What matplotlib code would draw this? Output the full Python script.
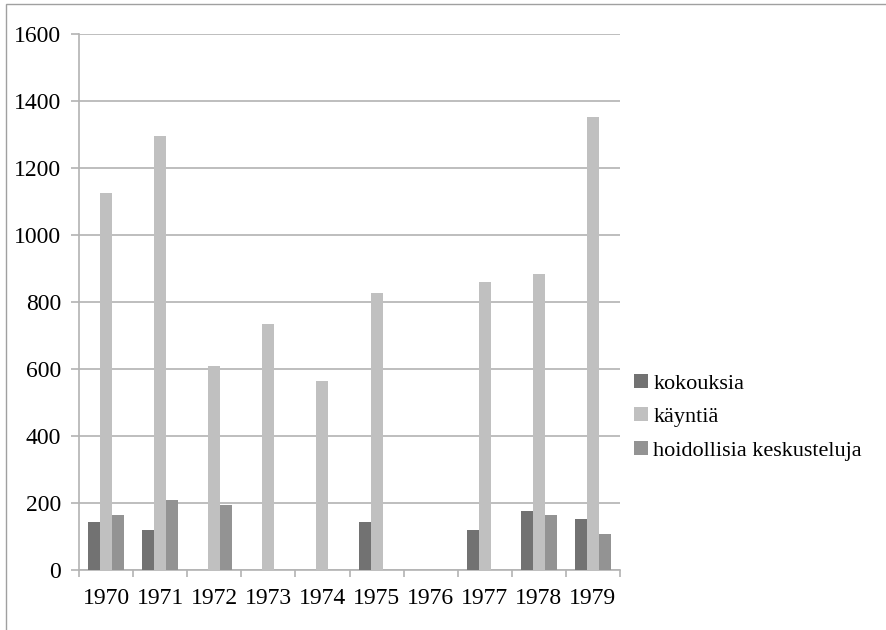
import numpy as np
import matplotlib
matplotlib.use("Agg")
import matplotlib.pyplot as plt
from matplotlib.patches import Rectangle

plt.rcParams['font.family'] = ['Liberation Serif', 'DejaVu Serif']

# Data
years = ["1970", "1971", "1972", "1973", "1974", "1975", "1976", "1977", "1978", "1979"]
kokouksia = [144, 119, 0, 0, 0, 143, 0, 120, 175, 152]
kayntia = [1124, 1296, 608, 734, 564, 828, 0, 859, 885, 1352]
hoidollisia = [164, 209, 194, 0, 0, 0, 0, 0, 164, 107]

series = [("kokouksia", kokouksia, "#727272"),
          ("käyntiä", kayntia, "#c0c0c0"),
          ("hoidollisia keskusteluja", hoidollisia, "#939393")]

fig = plt.figure(figsize=(8.86, 6.3), dpi=100)
# outer chart border
fig.patches.append(Rectangle((6 / 886, -0.01), 1.0, (630 - 4) / 630 + 0.01,
                             transform=fig.transFigure, fill=False,
                             edgecolor="#a0a0a0", linewidth=1.0))

ax = fig.add_axes([79 / 886, 60 / 630, 541 / 886, 536 / 630])

x = np.arange(len(years))
w = 1 / 4.5
for i, (name, vals, col) in enumerate(series):
    ax.bar(x + (i - 1) * w, vals, width=w, color=col, label=name, linewidth=0, zorder=3)

ax.set_xlim(-0.5, len(years) - 0.5)
ax.set_ylim(0, 1600)
ax.set_yticks(range(0, 1601, 200))
ax.yaxis.grid(True, color="#b3b3b3", linewidth=1.2, zorder=0)

ax.set_xticks(x)
ax.set_xticklabels(years)
ax.set_xticks(np.arange(-0.5, len(years)), minor=True)
ax.tick_params(axis="x", which="major", length=0, pad=13, labelsize=17)
ax.tick_params(axis="x", which="minor", length=5, width=1.2, color="#b3b3b3")
ax.tick_params(axis="y", length=6, width=1.2, color="#b3b3b3", pad=7, labelsize=17)

for s in ["top", "right"]:
    ax.spines[s].set_visible(False)
for s in ["left", "bottom"]:
    ax.spines[s].set_color("#b3b3b3")
    ax.spines[s].set_linewidth(1.2)

ax.legend(loc="center left", bbox_to_anchor=(1.01, 0.285), frameon=False,
          fontsize=16, handlelength=0.6, handleheight=0.6, handletextpad=0.25,
          labelspacing=0.62, borderaxespad=0.1, borderpad=0.3)

fig.savefig("out.png", dpi=100)
